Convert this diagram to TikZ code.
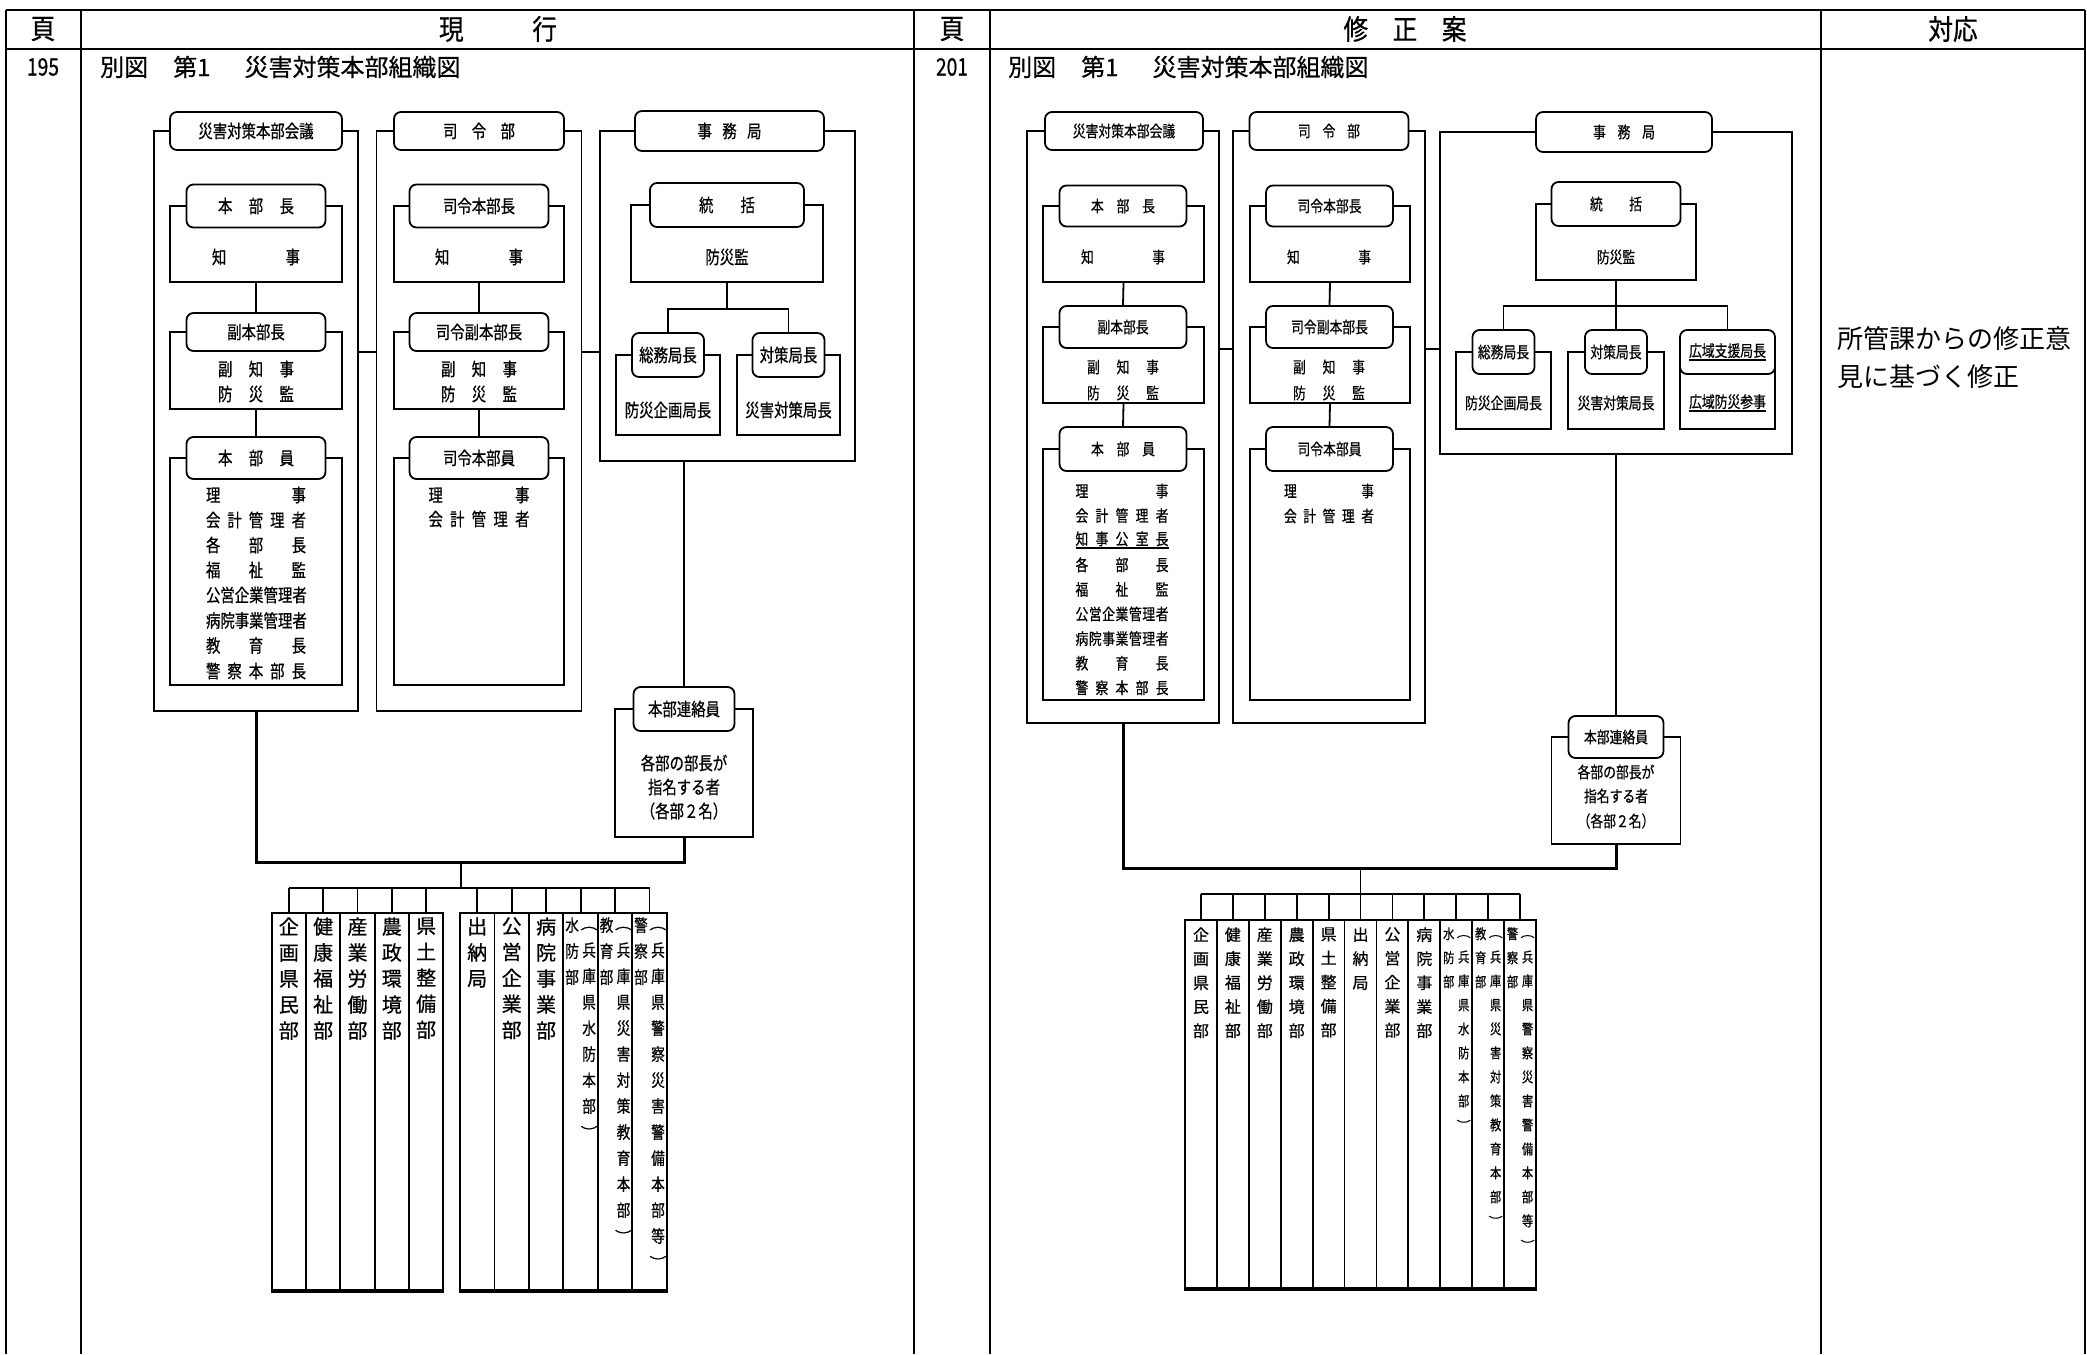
\documentclass[tikz,border=0pt]{standalone}
\usepackage{fontspec}
\usepackage{graphicx}
\usetikzlibrary{calc}
\newfontfamily\jpn{Noto Sans CJK JP}
\newfontfamily\jp[FakeBold=0.6]{Noto Sans CJK JP}
\newfontfamily\jpc[FakeStretch=0.8,FakeBold=0.6]{Noto Sans CJK JP}
\newfontfamily\jpd[FakeStretch=0.88,FakeBold=0.6]{Noto Sans CJK JP}
\newcommand\myfs[2]{\fontsize{#1}{#2}\selectfont}
\newcommand\dsx[2]{\hbox to #1pt{#2}}
\newcommand\dsxu[2]{\rlap{\rule[-4pt]{#1pt}{1.5pt}}\hbox to #1pt{#2}}
\newcommand\vpo{\rotatebox[origin=c]{-90}{（}}
\newcommand\vpc{\rotatebox[origin=c]{-90}{）}}
\newsavebox\ulbx
\newcommand\myul[1]{\sbox\ulbx{#1}\rlap{\rule[-4pt]{\wd\ulbx}{1.5pt}}\usebox\ulbx}
\begin{document}
\begin{tikzpicture}[x=1pt,y=-1pt,
  tbl/.style={line width=2.2pt},
  frm/.style={draw, line width=1.8pt, inner sep=0pt},
  hdL/.style={draw, fill=white, rounded corners=7pt, line width=1.8pt, inner sep=0pt, font=\jpc\myfs{18}{20}},
  hdR/.style={draw, fill=white, rounded corners=7pt, line width=1.8pt, inner sep=0pt, font=\jpc\myfs{16}{18}},
  txL/.style={inner sep=0pt, font=\jpc\myfs{18}{25}},
  txR/.style={inner sep=0pt, font=\jpc\myfs{16}{24}},
  ln/.style={line width=1.8pt},
  lnb/.style={line width=3pt},
  colbox/.style={draw, line width=1.8pt, inner sep=0pt},
  vtl/.style={inner sep=0pt, anchor=north, align=center, font=\jp\myfs{20}{26}},
  vtls/.style={inner sep=0pt, anchor=north, align=center, font=\jpc\myfs{17}{26}},
  vtr/.style={inner sep=0pt, anchor=north, align=center, font=\jp\myfs{16}{24}},
  vtrs/.style={inner sep=0pt, anchor=north, align=center, font=\jpc\myfs{14}{24}},
  hdr/.style={inner sep=0pt, font=\jpd\myfs{28}{30}},
  row/.style={inner sep=0pt, font=\jp\myfs{24}{26}},
  ]
\fill[white] (0,0) rectangle (2087,1354);
\useasboundingbox (0,0) rectangle (2087,1354);

% ---------------- table ----------------
\draw[tbl] (6,10) -- (2085,10);
\draw[tbl] (6,49) -- (2085,49);
\foreach \x in {6,81,914,990,1821,2085} \draw[tbl] (\x,10) -- (\x,1354);
\node[hdr] (h1) at (43,29) {頁};
\node[hdr] (h2) at (498,29) {\dsx{118}{現\hfill 行}};
\node[hdr] (h3) at (952,29) {頁};
\node[hdr] (h4) at (1405,29) {\dsx{123}{修\hfill 正\hfill 案}};
\node[hdr] (h5) at (1953,29) {対応};
\node[row, font=\jpc\myfs{24}{26}] (r1) at (43,67) {195};
\node[row, anchor=west] (r2) at (100,67) {別図\hspace{25pt}第1\hspace{34pt}災害対策本部組織図};
\node[row, font=\jpc\myfs{24}{26}] (r3) at (952,67) {201};
\node[row, anchor=west] (r4) at (1008,67) {別図\hspace{25pt}第1\hspace{34pt}災害対策本部組織図};
\node[inner sep=0pt, anchor=west, font=\jpn\myfs{26}{28}] (n1) at (1837,339) {所管課からの修正意};
\node[inner sep=0pt, anchor=west, font=\jpn\myfs{26}{28}] (n2) at (1837,377) {見に基づく修正};

% ================= LEFT =================
\node[frm, minimum width=204pt, minimum height=580pt] (LA) at (256,421) {};
\node[frm, minimum width=172pt, minimum height=76pt] (LA1F) at (256,244) {};
\node[frm, minimum width=172pt, minimum height=77pt] (LA2F) at (256,370.5) {};
\node[frm, minimum width=172pt, minimum height=227pt] (LA3F) at (256,571.5) {};
\node[hdL, minimum width=172pt, minimum height=38pt] (LAH) at (256,131) {災害対策本部会議};
\node[hdL, minimum width=139pt, minimum height=43pt] (LA1H) at (256,206) {\dsx{76}{本\hfill 部\hfill 長}};
\node[hdL, minimum width=139pt, minimum height=38pt] (LA2H) at (256,332) {副本部長};
\node[hdL, minimum width=139pt, minimum height=42pt] (LA3H) at (256,458) {\dsx{76}{本\hfill 部\hfill 員}};
\node[txL] (LA1T) at (256,257) {\dsx{88}{知\hfill 事}};
\node[txL] (LA2Ta) at (256,369) {\dsx{76}{副\hfill 知\hfill 事}};
\node[txL] (LA2Tb) at (256,394) {\dsx{76}{防\hfill 災\hfill 監}};
\node[txL] (LA3T1) at (256,495) {\dsx{100}{理\hfill 事}};
\node[txL] (LA3T2) at (256,520) {\dsx{100}{会\hfill 計\hfill 管\hfill 理\hfill 者}};
\node[txL] (LA3T3) at (256,545) {\dsx{100}{各\hfill 部\hfill 長}};
\node[txL] (LA3T4) at (256,570) {\dsx{100}{福\hfill 祉\hfill 監}};
\node[txL] (LA3T5) at (256,595) {\dsx{100}{公\hfill 営\hfill 企\hfill 業\hfill 管\hfill 理\hfill 者}};
\node[txL] (LA3T6) at (256,620.5) {\dsx{100}{病\hfill 院\hfill 事\hfill 業\hfill 管\hfill 理\hfill 者}};
\node[txL] (LA3T7) at (256,645.5) {\dsx{100}{教\hfill 育\hfill 長}};
\node[txL] (LA3T8) at (256,671) {\dsx{100}{警\hfill 察\hfill 本\hfill 部\hfill 長}};
\node[frm, minimum width=205pt, minimum height=580pt] (LB) at (479,421) {};
\node[frm, minimum width=170pt, minimum height=76pt] (LB1F) at (479,244) {};
\node[frm, minimum width=170pt, minimum height=77pt] (LB2F) at (479,370.5) {};
\node[frm, minimum width=170pt, minimum height=227pt] (LB3F) at (479,571.5) {};
\node[hdL, minimum width=170pt, minimum height=38pt] (LBH) at (479,131) {\dsx{72}{司\hfill 令\hfill 部}};
\node[hdL, minimum width=139pt, minimum height=43pt] (LB1H) at (479,206) {司令本部長};
\node[hdL, minimum width=139pt, minimum height=38pt] (LB2H) at (479,332) {司令副本部長};
\node[hdL, minimum width=139pt, minimum height=42pt] (LB3H) at (479,458) {司令本部員};
\node[txL] (LB1T) at (479,257) {\dsx{88}{知\hfill 事}};
\node[txL] (LB2Ta) at (479,369) {\dsx{76}{副\hfill 知\hfill 事}};
\node[txL] (LB2Tb) at (479,394) {\dsx{76}{防\hfill 災\hfill 監}};
\node[txL] (LB3T1) at (479,495) {\dsx{101}{理\hfill 事}};
\node[txL] (LB3T2) at (479,519) {\dsx{101}{会\hfill 計\hfill 管\hfill 理\hfill 者}};
\node[frm, minimum width=255pt, minimum height=330pt] (LC) at (727.5,296) {};
\node[frm, minimum width=192pt, minimum height=77pt] (LC1F) at (727,243.5) {};
\node[frm, minimum width=104pt, minimum height=80pt] (LC2F) at (668,395) {};
\node[frm, minimum width=103pt, minimum height=80pt] (LC3F) at (788.5,395) {};
\node[hdL, minimum width=189pt, minimum height=40pt] (LCH) at (729.5,131) {\dsx{64}{事\hfill 務\hfill 局}};
\node[hdL, minimum width=154pt, minimum height=44pt] (LC1H) at (727,205) {\dsx{56}{統\hfill 括}};
\node[hdL, minimum width=72pt, minimum height=44pt] (LC2H) at (668,355) {総務局長};
\node[hdL, minimum width=72pt, minimum height=44pt] (LC3H) at (788.5,355) {対策局長};
\node[txL] (LC1T) at (727,257) {防災監};
\node[txL] (LC2T) at (668,410) {防災企画局長};
\node[txL] (LC3T) at (788.5,410) {災害対策局長};
\node[frm, minimum width=138pt, minimum height=128pt] (LD) at (684,773) {};
\node[hdL, minimum width=101pt, minimum height=44pt] (LDH) at (684,709) {本部連絡員};
\node[txL] (LDT1) at (684,763) {各部の部長が};
\node[txL] (LDT2) at (684,787) {指名する者};
\node[txL] (LDT3) at (684,811) {（各部２名）};
\draw[ln] (LA1F.south) -- (LA2H.north);
\draw[ln] (LA2F.south) -- (LA3H.north);
\draw[ln] (LB1F.south) -- (LB2H.north);
\draw[ln] (LB2F.south) -- (LB3H.north);
\draw[ln] (LA.east |- LA2H.south) -- (LB.west |- LA2H.south);
\draw[ln] (LB.east |- LA2H.south) -- (LC.west |- LA2H.south);
\coordinate (LCj) at (727,309);
\draw[ln] (LC1F.south) -- (LCj);
\draw[ln] (LC2H.north) |- (LCj) -| (LC3H.north);
\draw[ln] (LC.south -| LDH.north) -- (LDH.north);
\coordinate (Lh) at (461,862);
\coordinate (Lb) at (461,888);
\draw[lnb] (LA.south) |- (LD.south |- Lh) -- (LD.south);
\draw[ln] (Lh) -- (Lb);
\foreach \i/\x in {1/288.86,2/323.18,3/357.5,4/391.82,5/426.14,6/477.2,7/511.7,8/546.1,9/580.6,10/615.0,11/649.5}
  \node[colbox, minimum width=34.4pt, minimum height=377pt] (LK\i) at (\x,1101.5) {};
\draw[line width=4pt] (LK1.south west) -- (LK5.south east);
\draw[line width=4pt] (LK6.south west) -- (LK11.south east);
\draw[ln] (LK1.north |- Lb) -- (LK11.north |- Lb);
\foreach \i in {1,...,11} \draw[ln] (LK\i.north) -- (LK\i.north |- Lb);
\node[vtl] (LT1) at ($(LK1.north)+(0,5)$) {企\\画\\県\\民\\部};
\node[vtl] (LT2) at ($(LK2.north)+(0,5)$) {健\\康\\福\\祉\\部};
\node[vtl] (LT3) at ($(LK3.north)+(0,5)$) {産\\業\\労\\働\\部};
\node[vtl] (LT4) at ($(LK4.north)+(0,5)$) {農\\政\\環\\境\\部};
\node[vtl] (LT5) at ($(LK5.north)+(0,5)$) {県\\土\\整\\備\\部};
\node[vtl] (LT6) at ($(LK6.north)+(0,5)$) {出\\納\\局};
\node[vtl] (LT7) at ($(LK7.north)+(0,5)$) {公\\営\\企\\業\\部};
\node[vtl] (LT8) at ($(LK8.north)+(0,5)$) {病\\院\\事\\業\\部};
\node[vtls] (LT9a) at ($(LK9.north)+(-8.5,5)$) {水\\防\\部};
\node[vtls] (LT9b) at ($(LK9.north)+(8.5,5)$) {\vpo\\兵\\庫\\県\\水\\防\\本\\部\\\vpc};
\node[vtls] (LT10a) at ($(LK10.north)+(-8.5,5)$) {教\\育\\部};
\node[vtls] (LT10b) at ($(LK10.north)+(8.5,5)$) {\vpo\\兵\\庫\\県\\災\\害\\対\\策\\教\\育\\本\\部\\\vpc};
\node[vtls] (LT11a) at ($(LK11.north)+(-8.5,5)$) {警\\察\\部};
\node[vtls] (LT11b) at ($(LK11.north)+(8.5,5)$) {\vpo\\兵\\庫\\県\\警\\察\\災\\害\\警\\備\\本\\部\\等\\\vpc};

% ================= RIGHT =================
\node[frm, minimum width=192pt, minimum height=592pt] (RA) at (1123,427) {};
\node[frm, minimum width=161pt, minimum height=76pt] (RA1F) at (1123.5,244) {};
\node[frm, minimum width=161pt, minimum height=76pt] (RA2F) at (1123.5,365) {};
\node[frm, minimum width=161pt, minimum height=251pt] (RA3F) at (1123.5,574.5) {};
\node[hdR, minimum width=158pt, minimum height=38pt] (RAH) at (1124,131) {災害対策本部会議};
\node[hdR, minimum width=127pt, minimum height=41pt] (RA1H) at (1123,206) {\dsx{64}{本\hfill 部\hfill 長}};
\node[hdR, minimum width=127pt, minimum height=42pt] (RA2H) at (1123,327) {副本部長};
\node[hdR, minimum width=127pt, minimum height=44pt] (RA3H) at (1123,449) {\dsx{64}{本\hfill 部\hfill 員}};
\node[txR] (RA1T) at (1123,257) {\dsx{84}{知\hfill 事}};
\node[txR] (RA2Ta) at (1123,367) {\dsx{72}{副\hfill 知\hfill 事}};
\node[txR] (RA2Tb) at (1123,393) {\dsx{72}{防\hfill 災\hfill 監}};
\node[txR] (RA3T1) at (1122,491) {\dsx{93}{理\hfill 事}};
\node[txR] (RA3T2) at (1122,515.6) {\dsx{93}{会\hfill 計\hfill 管\hfill 理\hfill 者}};
\node[txR] (RA3T3) at (1122,540.2) {\dsxu{93}{知\hfill 事\hfill 公\hfill 室\hfill 長}};
\node[txR] (RA3T4) at (1122,564.8) {\dsx{93}{各\hfill 部\hfill 長}};
\node[txR] (RA3T5) at (1122,589.4) {\dsx{93}{福\hfill 祉\hfill 監}};
\node[txR] (RA3T6) at (1122,614) {\dsx{93}{公\hfill 営\hfill 企\hfill 業\hfill 管\hfill 理\hfill 者}};
\node[txR] (RA3T7) at (1122,638.6) {\dsx{93}{病\hfill 院\hfill 事\hfill 業\hfill 管\hfill 理\hfill 者}};
\node[txR] (RA3T8) at (1122,663.2) {\dsx{93}{教\hfill 育\hfill 長}};
\node[txR] (RA3T9) at (1122,687.8) {\dsx{93}{警\hfill 察\hfill 本\hfill 部\hfill 長}};
\node[frm, minimum width=192pt, minimum height=592pt] (RB) at (1329,427) {};
\node[frm, minimum width=160pt, minimum height=76pt] (RB1F) at (1330,244) {};
\node[frm, minimum width=160pt, minimum height=76pt] (RB2F) at (1330,365) {};
\node[frm, minimum width=160pt, minimum height=251pt] (RB3F) at (1330,574.5) {};
\node[hdR, minimum width=159pt, minimum height=38pt] (RBH) at (1329,131) {\dsx{62}{司\hfill 令\hfill 部}};
\node[hdR, minimum width=127pt, minimum height=41pt] (RB1H) at (1329.5,206) {司令本部長};
\node[hdR, minimum width=127pt, minimum height=42pt] (RB2H) at (1329.5,327) {司令副本部長};
\node[hdR, minimum width=127pt, minimum height=44pt] (RB3H) at (1329.5,449) {司令本部員};
\node[txR] (RB1T) at (1329,257) {\dsx{84}{知\hfill 事}};
\node[txR] (RB2Ta) at (1329,367) {\dsx{72}{副\hfill 知\hfill 事}};
\node[txR] (RB2Tb) at (1329,393) {\dsx{72}{防\hfill 災\hfill 監}};
\node[txR] (RB3T1) at (1329,491) {\dsx{90}{理\hfill 事}};
\node[txR] (RB3T2) at (1329,516) {\dsx{90}{会\hfill 計\hfill 管\hfill 理\hfill 者}};
\node[frm, minimum width=352pt, minimum height=322pt] (RC) at (1616,293) {};
\node[frm, minimum width=160pt, minimum height=76pt] (RC1F) at (1616,242) {};
\node[frm, minimum width=95pt, minimum height=77pt] (RC2F) at (1503.5,390.5) {};
\node[frm, minimum width=96pt, minimum height=77pt] (RC3F) at (1616,390.5) {};
\node[frm, minimum width=95pt, minimum height=77pt] (RC4F) at (1727.5,390.5) {};
\node[hdR, minimum width=176pt, minimum height=40pt] (RCH) at (1624,132) {\dsx{62}{事\hfill 務\hfill 局}};
\node[hdR, minimum width=129pt, minimum height=44pt] (RC1H) at (1616,204) {\dsx{52}{統\hfill 括}};
\node[hdR, minimum width=62pt, minimum height=44pt] (RC2H) at (1503.5,352) {総務局長};
\node[hdR, minimum width=62pt, minimum height=44pt] (RC3H) at (1616,352) {対策局長};
\node[hdR, minimum width=95pt, minimum height=44pt] (RC4H) at (1727.5,352) {\myul{広域支援局長}};
\node[txR] (RC1T) at (1616,257) {防災監};
\node[txR] (RC2T) at (1503.5,403) {防災企画局長};
\node[txR] (RC3T) at (1616,403) {災害対策局長};
\node[txR] (RC4T) at (1727.5,403) {\myul{広域防災参事}};
\node[frm, minimum width=129pt, minimum height=107pt] (RD) at (1616,790.5) {};
\node[hdR, minimum width=95pt, minimum height=42pt] (RDH) at (1616,737) {本部連絡員};
\node[txR] (RDT1) at (1616,772) {各部の部長が};
\node[txR] (RDT2) at (1616,796) {指名する者};
\node[txR] (RDT3) at (1616,821) {（各部２名）};
\draw[ln] (RA1F.south) -- (RA2H.north);
\draw[ln] (RA2F.south) -- (RA3H.north);
\draw[ln] (RB1F.south) -- (RB2H.north);
\draw[ln] (RB2F.south) -- (RB3H.north);
\draw[ln] (RA.east |- RA2H.south) -- (RB.west |- RA2H.south);
\draw[ln] (RB.east |- RA2H.south) -- (RC.west |- RA2H.south);
\coordinate (RCj) at (1616,306);
\draw[ln] (RC1F.south) -- (RCj);
\draw[ln] (RC2H.north) |- (RCj) -| (RC4H.north);
\draw[ln] (RCj) -- (RC3H.north);
\draw[ln] (RC.south -| RDH.north) -- (RDH.north);
\coordinate (Rh) at (1360.5,868);
\coordinate (Rb) at (1360.5,894);
\draw[lnb] (RA.south) |- (RD.south |- Rh) -- (RD.south);
\draw[ln] (Rh) -- (Rb);
\foreach \i/\x in {1/1200.95,2/1232.86,3/1264.77,4/1296.68,5/1328.59,6/1360.5,7/1392.41,8/1424.32,9/1456.23,10/1488.14,11/1520.05}
  \node[colbox, minimum width=31.9pt, minimum height=368pt] (RK\i) at (\x,1104) {};
\draw[line width=3.5pt] (RK1.south west) -- (RK11.south east);
\draw[ln] (RK1.north |- Rb) -- (RK11.north |- Rb);
\foreach \i in {1,...,11} \draw[ln] (RK\i.north) -- (RK\i.north |- Rb);
\node[vtr] (RT1) at ($(RK1.north)+(0,8)$) {企\\画\\県\\民\\部};
\node[vtr] (RT2) at ($(RK2.north)+(0,8)$) {健\\康\\福\\祉\\部};
\node[vtr] (RT3) at ($(RK3.north)+(0,8)$) {産\\業\\労\\働\\部};
\node[vtr] (RT4) at ($(RK4.north)+(0,8)$) {農\\政\\環\\境\\部};
\node[vtr] (RT5) at ($(RK5.north)+(0,8)$) {県\\土\\整\\備\\部};
\node[vtr] (RT6) at ($(RK6.north)+(0,8)$) {出\\納\\局};
\node[vtr] (RT7) at ($(RK7.north)+(0,8)$) {公\\営\\企\\業\\部};
\node[vtr] (RT8) at ($(RK8.north)+(0,8)$) {病\\院\\事\\業\\部};
\node[vtrs] (RT9a) at ($(RK9.north)+(-7.5,8)$) {水\\防\\部};
\node[vtrs] (RT9b) at ($(RK9.north)+(7.5,8)$) {\vpo\\兵\\庫\\県\\水\\防\\本\\部\\\vpc};
\node[vtrs] (RT10a) at ($(RK10.north)+(-7.5,8)$) {教\\育\\部};
\node[vtrs] (RT10b) at ($(RK10.north)+(7.5,8)$) {\vpo\\兵\\庫\\県\\災\\害\\対\\策\\教\\育\\本\\部\\\vpc};
\node[vtrs] (RT11a) at ($(RK11.north)+(-7.5,8)$) {警\\察\\部};
\node[vtrs] (RT11b) at ($(RK11.north)+(7.5,8)$) {\vpo\\兵\\庫\\県\\警\\察\\災\\害\\警\\備\\本\\部\\等\\\vpc};
\end{tikzpicture}
\end{document}
